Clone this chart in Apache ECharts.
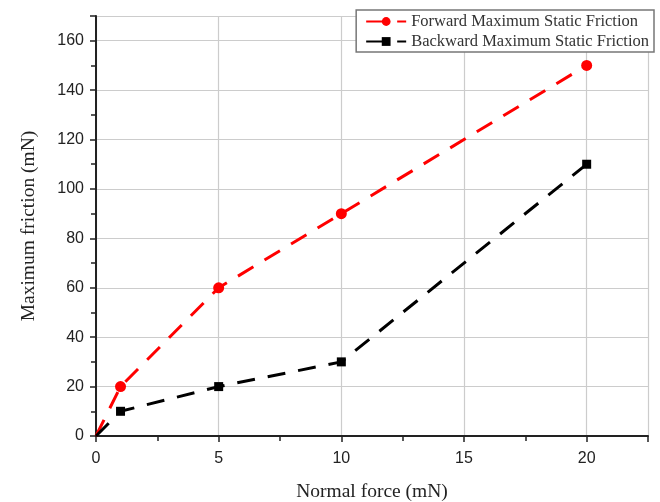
<!DOCTYPE html>
<html><head><meta charset="utf-8">
<script src="https://cdn.jsdelivr.net/npm/echarts@6/dist/echarts.min.js"></script>
<style>html,body{margin:0;padding:0;background:#fff}#c{width:660px;height:502px}</style>
</head><body><div id="c"></div>
<script>
const normalForce = [0, 1, 5, 10, 20];
const forwardFriction = [0, 20, 60, 90, 150];
const backwardFriction = [0, 10, 20, 30, 110];
const forwardName = 'Forward Maximum Static Friction';
const backwardName = 'Backward Maximum Static Friction';

const chart = echarts.init(document.getElementById('c'));
function pts(ys){ return normalForce.map((x,i)=>({value:[x, ys[i]], symbolSize: i===0 ? 0 : undefined})); }
chart.setOption({
  animation:false,
  grid:{left:96, right:12, top:16, bottom:66, containLabel:false, outerBoundsMode:'none'},
  legend:{
    right:6, top:10, orient:'vertical', itemGap:3, itemWidth:40, itemHeight:11,
    borderColor:'#777', borderWidth:1.5, borderRadius:0, padding:[3,5,2,9],
    backgroundColor:'#fff',
    textStyle:{fontFamily:'Liberation Serif', fontSize:16.5, color:'#333'},
    data:[forwardName, backwardName]
  },
  xAxis:{
    type:'value', min:0, max:22.5, interval:5,
    name:'Normal force (mN)', nameLocation:'middle', nameGap:46,
    nameTextStyle:{fontFamily:'Liberation Serif', fontSize:19.5, color:'#222'},
    axisLine:{show:true, lineStyle:{color:'#222', width:2}},
    axisTick:{show:true, length:6, lineStyle:{color:'#222', width:1.5}},
    minorTick:{show:true, splitNumber:2, length:5, lineStyle:{color:'#222', width:1.5}},
    axisLabel:{fontFamily:'Liberation Sans', fontSize:16, color:'#222', margin:15,
      formatter:v => (v % 5 === 0 ? String(v) : '')},
    splitLine:{show:true, lineStyle:{color:'#ccc', width:1.2}}
  },
  yAxis:{
    type:'value', min:0, max:170, interval:20,
    name:'Maximum friction (mN)', nameLocation:'middle', nameGap:57,
    nameTextStyle:{fontFamily:'Liberation Serif', fontSize:19.5, color:'#222'},
    axisLine:{show:true, lineStyle:{color:'#222', width:2}},
    axisTick:{show:true, length:6, lineStyle:{color:'#222', width:1.5}},
    minorTick:{show:true, splitNumber:2, length:5, lineStyle:{color:'#222', width:1.5}},
    axisLabel:{fontFamily:'Liberation Sans', fontSize:16, color:'#222', margin:12,
      formatter:v => (v % 20 === 0 ? String(v) : '')},
    splitLine:{show:true, lineStyle:{color:'#ccc', width:1.2}}
  },
  series:[
    {name:forwardName, type:'line', data:pts(forwardFriction),
     symbol:'circle', symbolSize:11, color:'#ff0000',
     itemStyle:{color:'#ff0000'},
     lineStyle:{color:'#ff0000', width:3, type:[18,13]}},
    {name:backwardName, type:'line', data:pts(backwardFriction),
     symbol:'rect', symbolSize:9, color:'#000',
     itemStyle:{color:'#000'},
     lineStyle:{color:'#000', width:3, type:[18,13]}}
  ]
});
</script></body></html>
